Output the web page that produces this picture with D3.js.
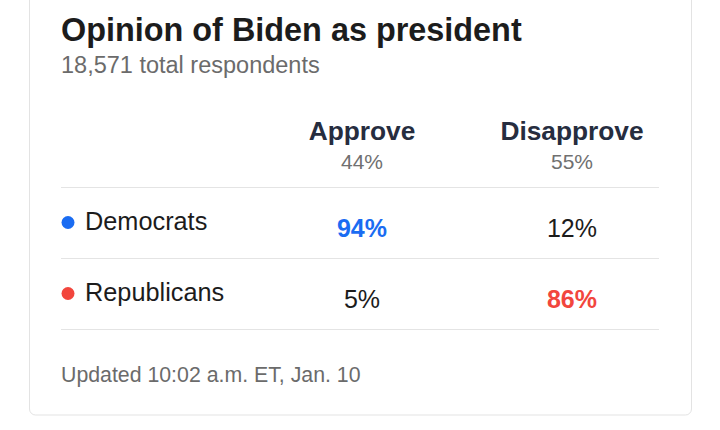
<!DOCTYPE html>
<html>
<head>
<meta charset="utf-8">
<script src="https://cdn.jsdelivr.net/npm/d3@7"></script>
<style>
  body { margin: 0; background: #fff; }
  svg { display: block; font-family: "Liberation Sans", Arial, sans-serif; }
</style>
</head>
<body>
<svg width="720" height="430"></svg>
<script>
var svg = d3.select("svg"),
    width = +svg.attr("width"),
    height = +svg.attr("height");

// data
var columns = ["Approve", "Disapprove"];
var overall = [44, 55];
var parties = ["Democrats", "Republicans"];
var approve = [94, 5];
var disapprove = [12, 86];
var partyColors = ["#1a6cf2", "#f2463d"];
var title = "Opinion of Biden as president";
var subtitle = "18,571 total respondents";
var footer = "Updated 10:02 a.m. ET, Jan. 10";

var rows = parties.map(function(p, i) {
  return { party: p, values: [approve[i], disapprove[i]], color: partyColors[i] };
});

// card
svg.append("rect")
    .attr("x", 29.5).attr("y", -20)
    .attr("width", 662).attr("height", 435)
    .attr("rx", 6)
    .attr("fill", "#fff")
    .attr("stroke", "#e3e3e3");

svg.append("text")
    .attr("x", 61).attr("y", 41)
    .attr("font-size", "32.4px")
    .attr("font-weight", "bold")
    .attr("fill", "#1c1c1c")
    .text(title);

svg.append("text")
    .attr("x", 61).attr("y", 73)
    .attr("font-size", "23.5px")
    .attr("fill", "#6b6b6b")
    .text(subtitle);

var x = d3.scalePoint()
    .domain(columns)
    .range([362, 572]);

var y = d3.scaleBand()
    .domain(parties)
    .range([187.5, 329.5]);

// column headers
var head = svg.append("g").selectAll("g")
    .data(columns)
    .enter().append("g")
      .attr("transform", function(d) { return "translate(" + x(d) + ",0)"; });

head.append("text")
    .attr("y", 140)
    .attr("text-anchor", "middle")
    .attr("font-size", "26.3px")
    .attr("font-weight", "bold")
    .attr("fill", "#262d3f")
    .text(function(d) { return d; });

head.append("text")
    .attr("y", 169)
    .attr("text-anchor", "middle")
    .attr("font-size", "21px")
    .attr("fill", "#707070")
    .text(function(d, i) { return overall[i] + "%"; });

// separators
svg.append("g").selectAll("line")
    .data([y.range()[0]].concat(parties.map(function(p) { return y(p) + y.bandwidth(); })))
    .enter().append("line")
      .attr("x1", 61).attr("x2", 659)
      .attr("y1", function(d) { return d; })
      .attr("y2", function(d) { return d; })
      .attr("stroke", "#e4e4e4");

// rows
var row = svg.append("g").selectAll("g")
    .data(rows)
    .enter().append("g")
      .attr("transform", function(d) { return "translate(0," + y(d.party) + ")"; });

row.append("circle")
    .attr("cx", 68).attr("cy", 35)
    .attr("r", 6.5)
    .attr("fill", function(d) { return d.color; });

row.append("text")
    .attr("x", 85).attr("y", 42)
    .attr("font-size", "25.3px")
    .attr("fill", "#1c1c1c")
    .text(function(d) { return d.party; });

row.selectAll(".val")
    .data(function(d) {
      var m = d3.max(d.values);
      return d.values.map(function(v, i) {
        return { col: columns[i], value: v, top: v === m, color: d.color };
      });
    })
    .enter().append("text")
      .attr("class", "val")
      .attr("x", function(d) { return x(d.col); })
      .attr("y", 49)
      .attr("text-anchor", "middle")
      .attr("font-size", "25px")
      .attr("font-weight", function(d) { return d.top ? "bold" : "normal"; })
      .attr("fill", function(d) { return d.top ? d.color : "#1c1c1c"; })
      .text(function(d) { return d.value + "%"; });

svg.append("text")
    .attr("x", 61).attr("y", 382)
    .attr("font-size", "21.3px")
    .attr("fill", "#6b6b6b")
    .text(footer);
</script>
</body>
</html>
